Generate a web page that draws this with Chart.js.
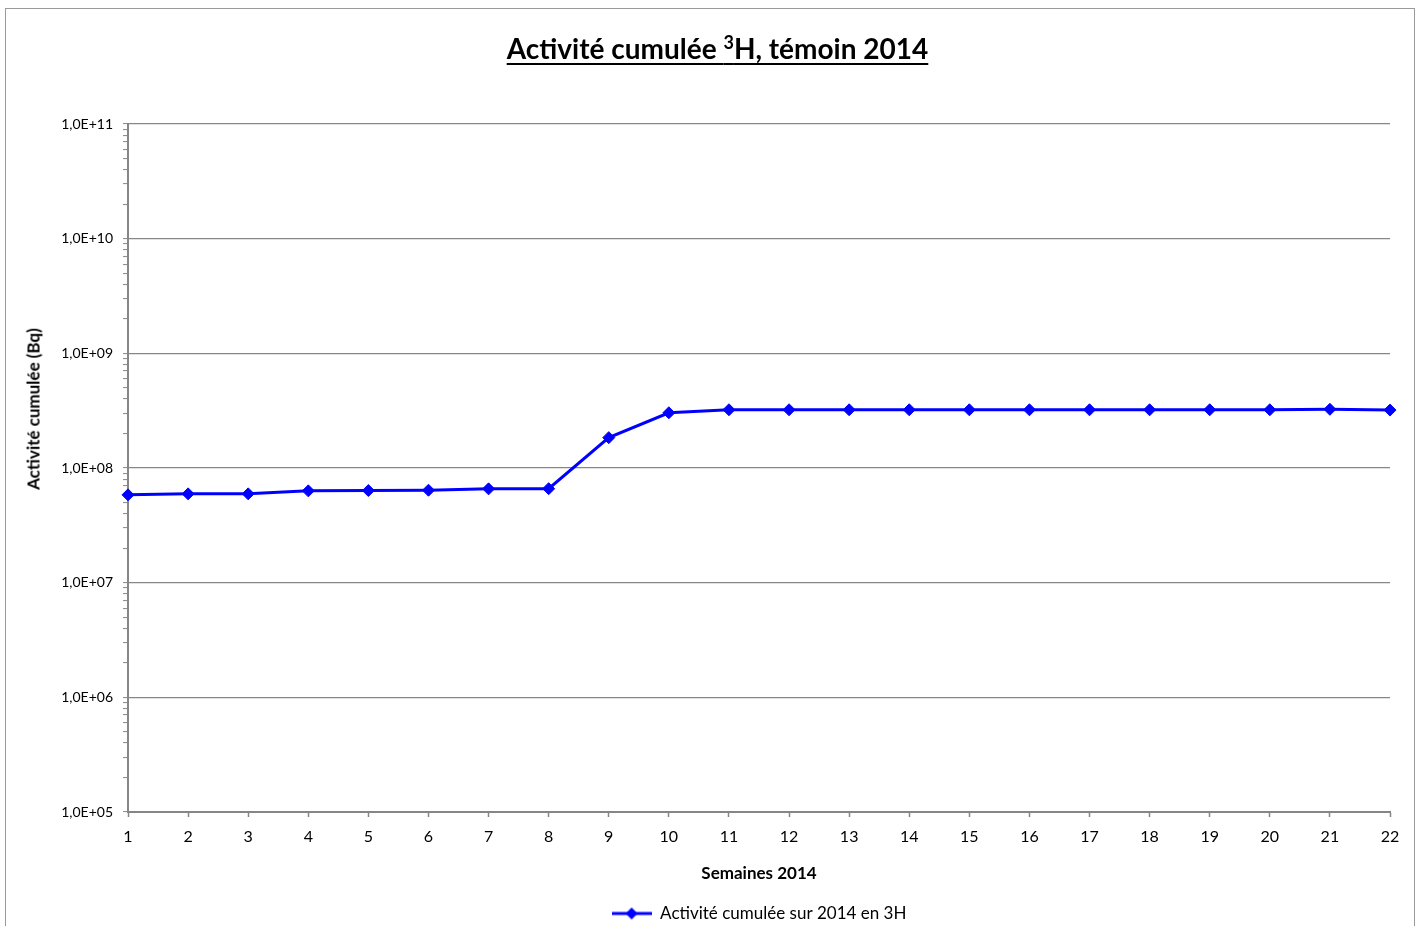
<!DOCTYPE html>
<html>
<head>
<meta charset="utf-8">
<title>Activité cumulée 3H</title>
<script src="https://cdn.jsdelivr.net/npm/chart.js@4/dist/chart.umd.min.js"></script>
<style>
  html, body { margin: 0; padding: 0; background: #fff; overflow: hidden; }
  #wrap { position: relative; width: 1422px; height: 926px; }
  #frame { position: absolute; left: 5px; top: 8px; width: 1410px; height: 940px;
           border: 1.5px solid #9a9a9a; box-sizing: border-box; }
  #title { position: absolute; left: 0; top: 31px; width: 1435px; text-align: center;
           font: bold 28px Lato, "Open Sans", sans-serif; color: #000;
           text-decoration: underline; text-decoration-thickness: 2px; text-underline-offset: 4px; }
  #title sup { font-size: 18px; vertical-align: 10px; line-height: 0; }
  #ytitle { position: absolute; left: 33px; top: 409px; white-space: nowrap;
            transform: translate(-50%, -50%) rotate(-90deg);
            font: bold 17px Lato, "Open Sans", sans-serif; color: #000; }
  canvas { position: absolute; left: 0; top: 0; }
</style>
</head>
<body>
<div id="wrap">
  <div id="frame"></div>
  <canvas id="myChart" width="1422" height="926"></canvas>
  <div id="title">Activité cumulée <sup>3</sup>H, témoin 2014</div>
  <div id="ytitle">Activité cumulée (Bq)</div>
</div>
<script>
  // data
  const weeks = ['1','2','3','4','5','6','7','8','9','10','11','12','13','14','15','16','17','18','19','20','21','22'];
  const cumulActivity = [5.83e7, 5.95e7, 5.95e7, 6.32e7, 6.36e7, 6.40e7, 6.58e7, 6.60e7, 1.84e8, 3.03e8,
                         3.22e8, 3.22e8, 3.22e8, 3.22e8, 3.22e8, 3.22e8, 3.22e8, 3.22e8, 3.22e8, 3.22e8, 3.25e8, 3.20e8];
  const yMin = 1e5;
  const yMax = 1e11;
  const seriesName = 'Activité cumulée sur 2014 en 3H';

  const FONT = 'Lato, "Open Sans", sans-serif';
  const GREY = '#868686';
  const BLUE = '#0000ff';

  // legend icon: line with a diamond
  function legendIcon() {
    let c = document.createElement('canvas');
    c.width = 40; c.height = 14;
    let g = c.getContext('2d');
    g.strokeStyle = BLUE; g.lineWidth = 3;
    g.beginPath(); g.moveTo(0, 7); g.lineTo(40, 7); g.stroke();
    g.fillStyle = BLUE;
    g.beginPath(); g.moveTo(20, 1); g.lineTo(26, 7); g.lineTo(20, 13); g.lineTo(14, 7); g.closePath(); g.fill();
    return c;
  }

  function isDecade(v) {
    let e = Math.log10(v);
    return Math.abs(e - Math.round(e)) < 1e-9;
  }

  let ctx = document.getElementById('myChart');
  let myChart = new Chart(ctx, {
    type: 'line',
    data: {
      labels: weeks,
      datasets: [{
        label: seriesName,
        data: cumulActivity,
        borderColor: BLUE,
        backgroundColor: BLUE,
        borderWidth: 3,
        pointStyle: 'rectRot',
        pointRadius: 6,
        pointBorderWidth: 1,
        pointBackgroundColor: BLUE,
        pointBorderColor: BLUE,
        tension: 0
      }]
    },
    options: {
      responsive: false,
      animation: false,
      layout: { padding: { left: 20, right: 32, top: 124, bottom: -6 } },
      plugins: {
        title: { display: false },
        tooltip: { enabled: false },
        legend: {
          position: 'bottom',
          fullSize: false,
          labels: {
            usePointStyle: true,
            pointStyle: legendIcon(),
            pointStyleWidth: 40,
            color: '#000',
            font: { family: FONT, size: 17 },
            padding: 0
          }
        }
      },
      scales: {
        x: {
          type: 'category',
          offset: false,
          afterFit: function(scale) { scale.height = 93; },
          grid: { drawOnChartArea: false, drawTicks: true, tickLength: 5, tickColor: GREY, tickWidth: 1.5 },
          border: { color: GREY, width: 2 },
          ticks: { color: '#000', font: { family: FONT, size: 16 }, padding: 10, maxRotation: 0, autoSkip: false },
          title: { display: true, text: 'Semaines 2014', color: '#000',
                   font: { family: FONT, size: 17, weight: 'bold' }, padding: { top: 0, bottom: 21 } }
        },
        y: {
          type: 'logarithmic',
          min: yMin,
          max: yMax,
          afterBuildTicks: function(scale) {
            let ticks = [];
            for (let e = Math.log10(yMin); e < Math.log10(yMax); e++) {
              for (let m = 1; m <= 9; m++) {
                ticks.push({ value: m * Math.pow(10, e), major: m === 1 });
              }
            }
            ticks.push({ value: yMax, major: true });
            scale.ticks = ticks;
          },
          afterFit: function(scale) { scale.width = 108; },
          grid: {
            color: c => (c.tick && isDecade(c.tick.value)) ? GREY : 'rgba(0,0,0,0)',
            lineWidth: 1.2,
            drawTicks: true,
            tickLength: 5,
            tickColor: GREY,
            tickWidth: 1
          },
          border: { color: GREY, width: 2 },
          ticks: {
            color: '#000',
            font: { family: FONT, size: 14 },
            padding: 10,
            autoSkip: false,
            callback: function(v) {
              if (!isDecade(v)) return '';
              let e = Math.round(Math.log10(v));
              return '1,0E+' + String(e).padStart(2, '0');
            }
          },
          title: { display: false }
        }
      }
    }
  });
</script>
</body>
</html>
